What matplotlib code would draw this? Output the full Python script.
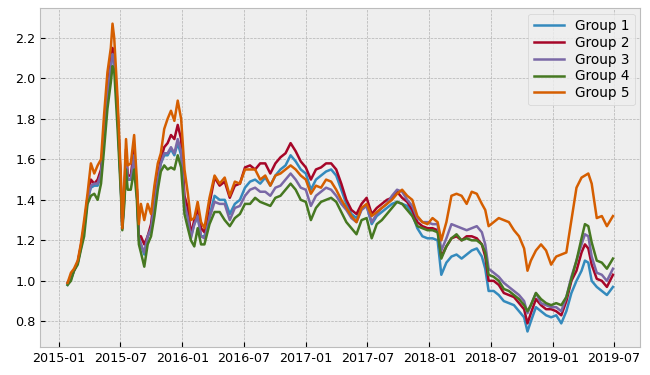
import matplotlib
matplotlib.use("Agg")
import matplotlib.pyplot as plt
import matplotlib.dates as mdates
import pandas as pd

# sample dates (denser through the volatile 2015 stretch)
dates = [
    "2015-01-26", "2015-02-05", "2015-02-14", "2015-02-25", "2015-03-06", "2015-03-16",
    "2015-03-26", "2015-04-05", "2015-04-15", "2015-04-25", "2015-05-05", "2015-05-14",
    "2015-05-24", "2015-06-03", "2015-06-08", "2015-06-13", "2015-06-23", "2015-07-03",
    "2015-07-07", "2015-07-13", "2015-07-18", "2015-07-23", "2015-08-01", "2015-08-11",
    "2015-08-19", "2015-08-25", "2015-08-31", "2015-09-10", "2015-09-20", "2015-09-30",
    "2015-10-10", "2015-10-20", "2015-10-29", "2015-11-08", "2015-11-18", "2015-11-28",
    "2015-12-08", "2015-12-18", "2015-12-28", "2016-01-07", "2016-01-17", "2016-01-26",
    "2016-02-05", "2016-02-15", "2016-02-25", "2016-03-06",
    "2016-03-21", "2016-04-05", "2016-04-20", "2016-05-05", "2016-05-20", "2016-06-04",
    "2016-06-19", "2016-07-04", "2016-07-19", "2016-08-03", "2016-08-18", "2016-09-02",
    "2016-09-17", "2016-10-02", "2016-10-17", "2016-11-01", "2016-11-16", "2016-12-01",
    "2016-12-16", "2016-12-31",
    "2017-01-15", "2017-01-30", "2017-02-14", "2017-03-01", "2017-03-16", "2017-03-31",
    "2017-04-15", "2017-04-30", "2017-05-15", "2017-05-30", "2017-06-14", "2017-06-29",
    "2017-07-14", "2017-07-29", "2017-08-13", "2017-08-28", "2017-09-12", "2017-09-27",
    "2017-10-12", "2017-10-27", "2017-11-11", "2017-11-26", "2017-12-11", "2017-12-26",
    "2018-01-10", "2018-01-25", "2018-02-05", "2018-02-20", "2018-03-07", "2018-03-22",
    "2018-04-06", "2018-04-21", "2018-05-06", "2018-05-21", "2018-06-05", "2018-06-15",
    "2018-06-25", "2018-07-10", "2018-07-25", "2018-08-09", "2018-08-24", "2018-09-08",
    "2018-09-23", "2018-10-08", "2018-10-18", "2018-10-28", "2018-11-12", "2018-11-27",
    "2018-12-12", "2018-12-27",
    "2019-01-11", "2019-01-26", "2019-02-10", "2019-02-25", "2019-03-12", "2019-03-27",
    "2019-04-06", "2019-04-16", "2019-04-26", "2019-05-11", "2019-05-26", "2019-06-10",
    "2019-06-28",
]

group1 = [
    0.98, 1.01, 1.05, 1.09, 1.16, 1.26, 1.40, 1.46, 1.47, 1.47,
    1.52, 1.72, 1.92, 2.05, 2.12, 2.10, 1.82, 1.45, 1.27, 1.42,
    1.62, 1.50, 1.50, 1.62, 1.45, 1.22, 1.18, 1.13, 1.22, 1.25,
    1.37, 1.50, 1.58, 1.62, 1.62, 1.65, 1.62, 1.68, 1.62, 1.38,
    1.32, 1.22, 1.28, 1.32, 1.22, 1.22,
    1.32, 1.42, 1.40, 1.40, 1.33, 1.38, 1.40, 1.46, 1.49, 1.50,
    1.48, 1.51, 1.47, 1.52, 1.55, 1.57, 1.62, 1.59, 1.55, 1.53,
    1.45, 1.50, 1.52, 1.54, 1.55, 1.52, 1.45, 1.38, 1.33, 1.31,
    1.36, 1.37, 1.28, 1.32, 1.34, 1.36, 1.38, 1.39, 1.38, 1.37,
    1.33, 1.26, 1.22, 1.21,
    1.21, 1.20, 1.03, 1.09, 1.12, 1.13, 1.11, 1.13, 1.15, 1.16,
    1.12, 1.06, 0.95, 0.95, 0.93, 0.90, 0.89, 0.88, 0.85, 0.82,
    0.75, 0.80, 0.87, 0.85, 0.83, 0.82,
    0.83, 0.79, 0.85, 0.94, 1.00, 1.05, 1.10, 1.09, 1.00, 0.97,
    0.95, 0.93, 0.97,
]
group2 = [
    0.99, 1.02, 1.05, 1.09, 1.17, 1.27, 1.41, 1.50, 1.48, 1.50,
    1.55, 1.75, 1.95, 2.08, 2.15, 2.12, 1.85, 1.47, 1.26, 1.44,
    1.65, 1.52, 1.52, 1.65, 1.45, 1.22, 1.22, 1.18, 1.22, 1.28,
    1.42, 1.52, 1.60, 1.66, 1.68, 1.72, 1.70, 1.77, 1.70, 1.42,
    1.36, 1.23, 1.30, 1.36, 1.26, 1.24,
    1.38, 1.51, 1.47, 1.49, 1.41, 1.47, 1.48, 1.56, 1.57, 1.55,
    1.58, 1.58, 1.53, 1.58, 1.61, 1.63, 1.68, 1.64, 1.59, 1.56,
    1.50, 1.55, 1.56, 1.58, 1.58, 1.55, 1.48, 1.40, 1.35, 1.33,
    1.38, 1.41, 1.33, 1.36, 1.38, 1.40, 1.41, 1.44, 1.41, 1.39,
    1.35, 1.29, 1.27, 1.26,
    1.26, 1.25, 1.12, 1.17, 1.21, 1.22, 1.20, 1.22, 1.22, 1.21,
    1.18, 1.12, 1.00, 1.00, 0.98, 0.94, 0.93, 0.92, 0.89, 0.86,
    0.79, 0.84, 0.91, 0.88, 0.86, 0.86,
    0.85, 0.83, 0.90, 1.00, 1.05, 1.14, 1.18, 1.16, 1.08, 1.01,
    1.00, 0.97, 1.03,
]
group3 = [
    0.99, 1.01, 1.05, 1.09, 1.16, 1.26, 1.40, 1.47, 1.48, 1.48,
    1.53, 1.73, 1.93, 2.06, 2.12, 2.10, 1.82, 1.45, 1.27, 1.42,
    1.62, 1.50, 1.50, 1.62, 1.45, 1.20, 1.18, 1.14, 1.22, 1.26,
    1.38, 1.50, 1.58, 1.63, 1.63, 1.66, 1.63, 1.70, 1.64, 1.38,
    1.31, 1.21, 1.28, 1.32, 1.22, 1.21,
    1.31, 1.39, 1.38, 1.38, 1.30, 1.36, 1.37, 1.42, 1.45, 1.46,
    1.44, 1.44, 1.42, 1.46, 1.47, 1.50, 1.53, 1.50, 1.46, 1.45,
    1.37, 1.42, 1.44, 1.46, 1.45, 1.42, 1.38, 1.35, 1.31, 1.29,
    1.35, 1.37, 1.29, 1.33, 1.36, 1.38, 1.42, 1.45, 1.44, 1.40,
    1.37, 1.31, 1.29, 1.29,
    1.28, 1.28, 1.15, 1.21, 1.28, 1.27, 1.26, 1.25, 1.26, 1.27,
    1.24, 1.18, 1.06, 1.04, 1.02, 0.99, 0.97, 0.95, 0.93, 0.90,
    0.84, 0.88, 0.94, 0.89, 0.88, 0.87,
    0.87, 0.85, 0.92, 1.02, 1.10, 1.18, 1.23, 1.22, 1.12, 1.04,
    1.03, 1.00, 1.06,
]
group4 = [
    0.98, 1.00, 1.05, 1.08, 1.15, 1.22, 1.38, 1.42, 1.43, 1.40,
    1.48, 1.65, 1.85, 1.98, 2.06, 2.04, 1.75, 1.42, 1.25, 1.38,
    1.55, 1.45, 1.45, 1.55, 1.40, 1.18, 1.14, 1.07, 1.18, 1.22,
    1.32, 1.45, 1.54, 1.57, 1.55, 1.56, 1.55, 1.62, 1.56, 1.33,
    1.26, 1.20, 1.17, 1.26, 1.18, 1.18,
    1.28, 1.34, 1.34, 1.30, 1.27, 1.31, 1.33, 1.38, 1.38, 1.41,
    1.39, 1.38, 1.37, 1.41, 1.42, 1.45, 1.48, 1.45, 1.40, 1.39,
    1.30, 1.36, 1.39, 1.40, 1.41, 1.39, 1.34, 1.29, 1.26, 1.23,
    1.30, 1.31, 1.21, 1.28, 1.30, 1.33, 1.36, 1.39, 1.38, 1.35,
    1.32, 1.27, 1.26, 1.25,
    1.25, 1.24, 1.11, 1.17, 1.21, 1.23, 1.20, 1.21, 1.20, 1.20,
    1.18, 1.14, 1.03, 1.02, 1.00, 0.96, 0.95, 0.93, 0.91, 0.88,
    0.85, 0.88, 0.94, 0.91, 0.89, 0.88,
    0.89, 0.88, 0.92, 1.01, 1.10, 1.21, 1.28, 1.27, 1.19, 1.10,
    1.09, 1.06, 1.11,
]
group5 = [
    0.99, 1.04, 1.06, 1.10, 1.18, 1.30, 1.43, 1.58, 1.53, 1.57,
    1.60, 1.82, 2.03, 2.15, 2.27, 2.20, 1.90, 1.50, 1.26, 1.48,
    1.70, 1.57, 1.58, 1.72, 1.50, 1.28, 1.38, 1.30, 1.38, 1.33,
    1.47, 1.58, 1.63, 1.75, 1.80, 1.84, 1.79, 1.89, 1.80, 1.55,
    1.43, 1.30, 1.31, 1.39, 1.29, 1.26,
    1.41, 1.52, 1.48, 1.51, 1.42, 1.49, 1.48, 1.55, 1.55, 1.55,
    1.50, 1.52, 1.47, 1.52, 1.53, 1.55, 1.57, 1.55, 1.52, 1.50,
    1.43, 1.47, 1.46, 1.50, 1.49, 1.45, 1.40, 1.36, 1.32, 1.29,
    1.36, 1.38, 1.32, 1.34, 1.36, 1.38, 1.40, 1.43, 1.45, 1.42,
    1.40, 1.32, 1.29, 1.28,
    1.31, 1.29, 1.20, 1.29, 1.42, 1.43, 1.42, 1.38, 1.44, 1.43,
    1.38, 1.35, 1.27, 1.29, 1.31, 1.30, 1.29, 1.25, 1.22, 1.16,
    1.05, 1.10, 1.15, 1.18, 1.15, 1.08,
    1.12, 1.13, 1.14, 1.30, 1.46, 1.51, 1.52, 1.53, 1.48, 1.31,
    1.32, 1.27, 1.32,
]
labels = ["Group 1", "Group 2", "Group 3", "Group 4", "Group 5"]

df = pd.DataFrame(
    dict(zip(labels, [group1, group2, group3, group4, group5])),
    index=pd.to_datetime(dates),
)

plt.style.use("bmh")
fig, ax = plt.subplots(figsize=(6.5, 3.75), dpi=100)
fig.subplots_adjust(left=0.062, right=0.985, top=0.978, bottom=0.075)

for col in labels:
    ax.plot(df.index, df[col], label=col, linewidth=1.8)

ax.xaxis.set_major_locator(mdates.MonthLocator(bymonth=[1, 7]))
ax.xaxis.set_major_formatter(mdates.DateFormatter("%Y-%m"))
ax.tick_params(labelsize=9.2)
ax.legend(loc="upper right", fontsize=9.8, labelspacing=0.2,
          borderaxespad=0.4, handlelength=2.2)

fig.savefig("out.png", dpi=100)
